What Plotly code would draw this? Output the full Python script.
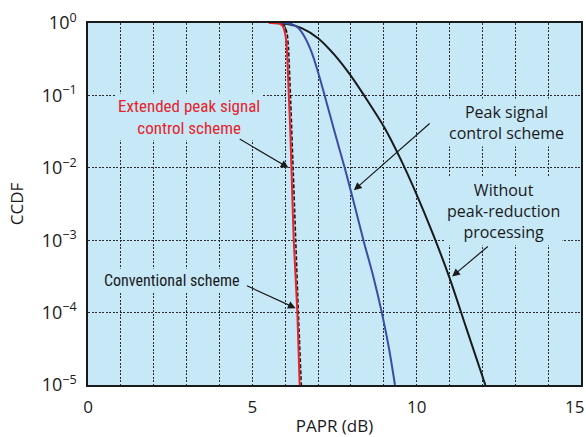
import numpy as np
import plotly.graph_objects as go

# ---- data (PAPR in dB, CCDF as log10 values) ----
without_x = [5.6, 6.0, 6.5, 7.0, 7.5, 8.0, 8.4, 9.0, 9.5, 10.0, 10.5, 11.0, 11.5, 12.09]
without_log = [0.0, -0.01, -0.07, -0.21, -0.44, -0.73, -1.0, -1.43, -1.87, -2.37, -2.92, -3.52, -4.2, -5.0]

peak_x = [5.85, 6.0, 6.2, 6.4, 6.6, 6.8, 7.0, 7.2, 7.5, 7.81, 8.1, 8.38, 8.68, 8.94, 9.16, 9.34]
peak_log = [0.0, -0.002, -0.015, -0.07, -0.2, -0.40, -0.68, -1.0, -1.5, -2.0, -2.5, -3.0, -3.5, -4.0, -4.5, -5.0]

ext_x = [5.5, 5.8, 5.92, 6.0, 6.05, 6.11, 6.16, 6.19, 6.26, 6.37, 6.44]
ext_log = [0.0, -0.005, -0.04, -0.15, -0.35, -1.0, -1.55, -2.0, -3.0, -4.0, -5.0]

conv_x = [5.55, 5.85, 5.98, 6.06, 6.10, 6.16, 6.24, 6.32, 6.40, 6.49]
conv_log = [0.0, -0.005, -0.04, -0.15, -0.35, -1.0, -2.0, -3.0, -4.0, -5.0]

x_ticks = [0, 5, 10]
x_last_tick = 15
y_ticks = [1, 1e-1, 1e-2, 1e-3, 1e-4, 1e-5]
y_ticktext = ["10<sup>0</sup>", "10<sup>−1</sup>", "10<sup>−2</sup>", "10<sup>−3</sup>",
              "10<sup>−4</sup>", "10<sup>−5</sup>"]

BG = "#c6e8f7"
RED = "#e5242b"
BLUE = "#3a4da6"
BLACK = "#1a1a1a"
FONT = "Open Sans, Noto Sans, sans-serif"
NARROW = "Liberation Sans Narrow, Roboto Condensed, Arial Narrow, sans-serif"


def lin(v):
    return [10 ** t for t in v]


fig = go.Figure()
fig.add_trace(go.Scatter(x=without_x, y=lin(without_log), mode="lines",
                         line=dict(color=BLACK, width=2, shape="spline", smoothing=0.8)))
fig.add_trace(go.Scatter(x=peak_x, y=lin(peak_log), mode="lines",
                         line=dict(color=BLUE, width=2, shape="spline", smoothing=0.8)))
fig.add_trace(go.Scatter(x=conv_x, y=lin(conv_log), mode="lines",
                         line=dict(color=BLACK, width=1.6, dash="4px,2px", shape="spline", smoothing=0.5)))
fig.add_trace(go.Scatter(x=ext_x, y=lin(ext_log), mode="lines",
                         line=dict(color=RED, width=2, shape="spline", smoothing=0.5)))

grid = dict(gridcolor="#2a2a2a", gridwidth=1, griddash="2px,1.5px")

fig.update_xaxes(range=[0, 15], tickvals=x_ticks, showgrid=True, **grid,
                 minor=dict(dtick=1, showgrid=True, gridcolor="#2a2a2a", gridwidth=1, griddash="2px,1.5px"),
                 showline=True, mirror=True, linecolor=BLACK, linewidth=1.5,
                 ticks="", ticklabelstandoff=6, zeroline=False, automargin=False,
                 tickfont=dict(family=FONT, size=17, color=BLACK),
                 title=dict(text="PAPR (dB)", font=dict(family=FONT, size=17, color=BLACK), standoff=12))
fig.update_yaxes(type="log", range=[-5, 0], tickvals=y_ticks, ticktext=y_ticktext,
                 showgrid=True, **grid,
                 showline=True, mirror=True, linecolor=BLACK, linewidth=1.5,
                 ticks="", ticklabelstandoff=6, automargin=False,
                 tickfont=dict(family=FONT, size=18, color=BLACK),
                 title=dict(text="CCDF", font=dict(family=FONT, size=17, color=BLACK), standoff=14))

# last x tick label, nudged left to stay inside the image as in the reference
fig.add_annotation(x=x_last_tick, y=0, xref="x", yref="paper", text=str(x_last_tick),
                   showarrow=False, xanchor="right", yanchor="top", xshift=5, yshift=-8,
                   font=dict(family=FONT, size=17, color=BLACK))

texts = [
    dict(text="Extended peak signal<br>control scheme", x=3.08, y=-1.30,
         font=dict(family=NARROW, size=17, color=RED)),
    dict(text="Peak signal<br>control scheme", x=12.73, y=-1.37,
         font=dict(family=FONT, size=16, color=BLACK)),
    dict(text="Without<br>peak-reduction<br>processing", x=12.64, y=-2.6,
         font=dict(family=FONT, size=16, color=BLACK)),
    dict(text="Conventional scheme", x=2.56, y=-3.55,
         font=dict(family=NARROW, size=16, color=BLACK)),
]
for t in texts:
    fig.add_annotation(xref="x", yref="y", showarrow=False, bgcolor=BG, borderpad=2, **t)

arrows = [
    (6.10, -2.0, 4.57, -1.59),
    (8.09, -2.31, 10.44, -1.37),
    (11.08, -3.50, 12.21, -3.07),
    (6.32, -3.94, 4.79, -3.62),
]
for x, y, ax, ay in arrows:
    fig.add_annotation(x=x, y=y, ax=ax, ay=ay, xref="x", yref="y", axref="x", ayref="y",
                       text="", showarrow=True, arrowhead=2, arrowsize=1.3, arrowwidth=1.2,
                       arrowcolor=BLACK)

fig.update_layout(width=586, height=437, margin=dict(l=88, r=5, t=23, b=52),
                  plot_bgcolor=BG, paper_bgcolor="white", showlegend=False,
                  font=dict(family=FONT, color=BLACK))

fig.write_html("out.html", config={"displayModeBar": False},
               post_script="document.body.style.margin='0';document.body.style.overflow='hidden';")
